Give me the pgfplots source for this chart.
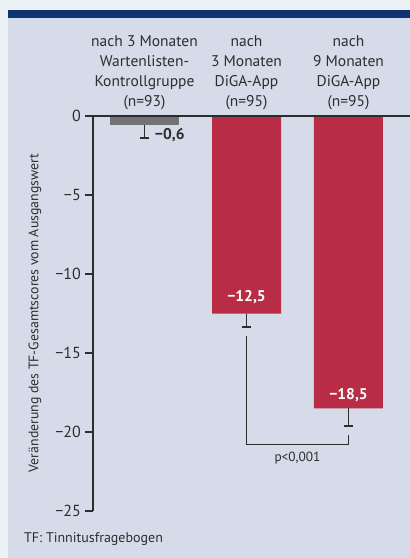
\documentclass[border=0pt]{standalone}
\usepackage{fontspec}
\setmainfont{PT Sans}
\usepackage{pgfplots}
\pgfplotsset{compat=1.18}
\definecolor{outerbg}{RGB}{234,242,246}
\definecolor{panel}{RGB}{213,219,232}
\definecolor{topbar}{RGB}{16,52,112}
\definecolor{barred}{RGB}{184,45,69}
\definecolor{bargray}{RGB}{115,115,115}
\definecolor{ink}{RGB}{45,45,45}
\begin{document}
\begin{tikzpicture}
\useasboundingbox (0,0) rectangle (410pt,-558pt);
\fill[outerbg] (0,0) rectangle (410pt,-558pt);
\fill[panel] (8pt,-10pt) rectangle (410pt,-558pt);
\fill[topbar] (8pt,-10pt) rectangle (410pt,-17.5pt);
\begin{axis}[
  at={(93pt,-511pt)}, anchor=south west,
  scale only axis, width=317pt, height=395pt,
  xmin=-0.505, xmax=2.603, ymin=-25, ymax=0,
  clip=false,
  axis x line=none, axis y line*=left,
  y axis line style={ink, line width=1.2pt},
  ytick={-25,-20,-15,-10,-5,0},
  yticklabels={−25,−20,−15,−10,−5,0},
  tick align=outside, major tick length=8pt,
  ytick style={ink, line width=1.2pt},
  yticklabel style={font=\fontsize{16}{18}\selectfont, text=ink, inner sep=0pt, xshift=-4pt},
]
\addplot[ybar, bar width=69pt, fill=bargray, draw=none,
  error bars/.cd, y dir=minus, y explicit,
  error bar style={ink, line width=1.2pt},
  error mark options={ink, rotate=90, line width=1.8pt, mark size=4.5pt}]
  coordinates {(0,-0.6) +- (0,0.8)};
\addplot[ybar, bar width=69pt, fill=barred, draw=none,
  error bars/.cd, y dir=minus, y explicit,
  error bar style={ink, line width=1.2pt},
  error mark options={ink, rotate=90, line width=1.8pt, mark size=4.5pt}]
  coordinates {(1,-12.5) +- (0,0.85) (2,-18.5) +- (0,1.1)};
\draw[ink, line width=1.2pt] (axis cs:-0.505,0) -- (axis cs:2.603,0);
\draw[ink, line width=1pt] (axis cs:1,-13.9) -- (axis cs:1,-20.8) -- (axis cs:2,-20.8) -- (axis cs:2,-20.2);
\node[font=\bfseries\fontsize{15.5}{18}\selectfont, text=ink, anchor=west, inner sep=0pt] at (axis cs:0.1,-1.2) {−0,6};
\node[font=\bfseries\fontsize{15.5}{18}\selectfont, text=white] at (axis cs:1,-11.46) {−12,5};
\node[font=\bfseries\fontsize{15.5}{18}\selectfont, text=white] at (axis cs:2,-17.66) {−18,5};
\node[font=\fontsize{13.3}{15}\selectfont, text=ink] at (axis cs:1.5,-21.65) {p<0,001};
\node[anchor=south, align=center, font=\fontsize{15.5}{20}\selectfont, text=ink, inner sep=0pt, yshift=6pt] at (axis cs:0,0) {nach 3 Monaten\\Wartenlisten-\\Kontrollgruppe\\(n=93)};
\node[anchor=south, align=center, font=\fontsize{15.5}{20}\selectfont, text=ink, inner sep=0pt, yshift=6pt] at (axis cs:1,0) {nach\\3 Monaten\\DiGA-App\\(n=95)};
\node[anchor=south, align=center, font=\fontsize{15.5}{20}\selectfont, text=ink, inner sep=0pt, yshift=6pt] at (axis cs:2,0) {nach\\9 Monaten\\DiGA-App\\(n=95)};
\end{axis}
\node[rotate=90, font=\fontsize{13.8}{16}\selectfont, text=ink] at (35pt,-313pt) {Veränderung des TF-Gesamtscores vom Ausgangswert};
\node[anchor=west, font=\fontsize{14}{16}\selectfont, text=ink, inner sep=0pt] at (24pt,-539pt) {TF: Tinnitusfragebogen};
\end{tikzpicture}
\end{document}
